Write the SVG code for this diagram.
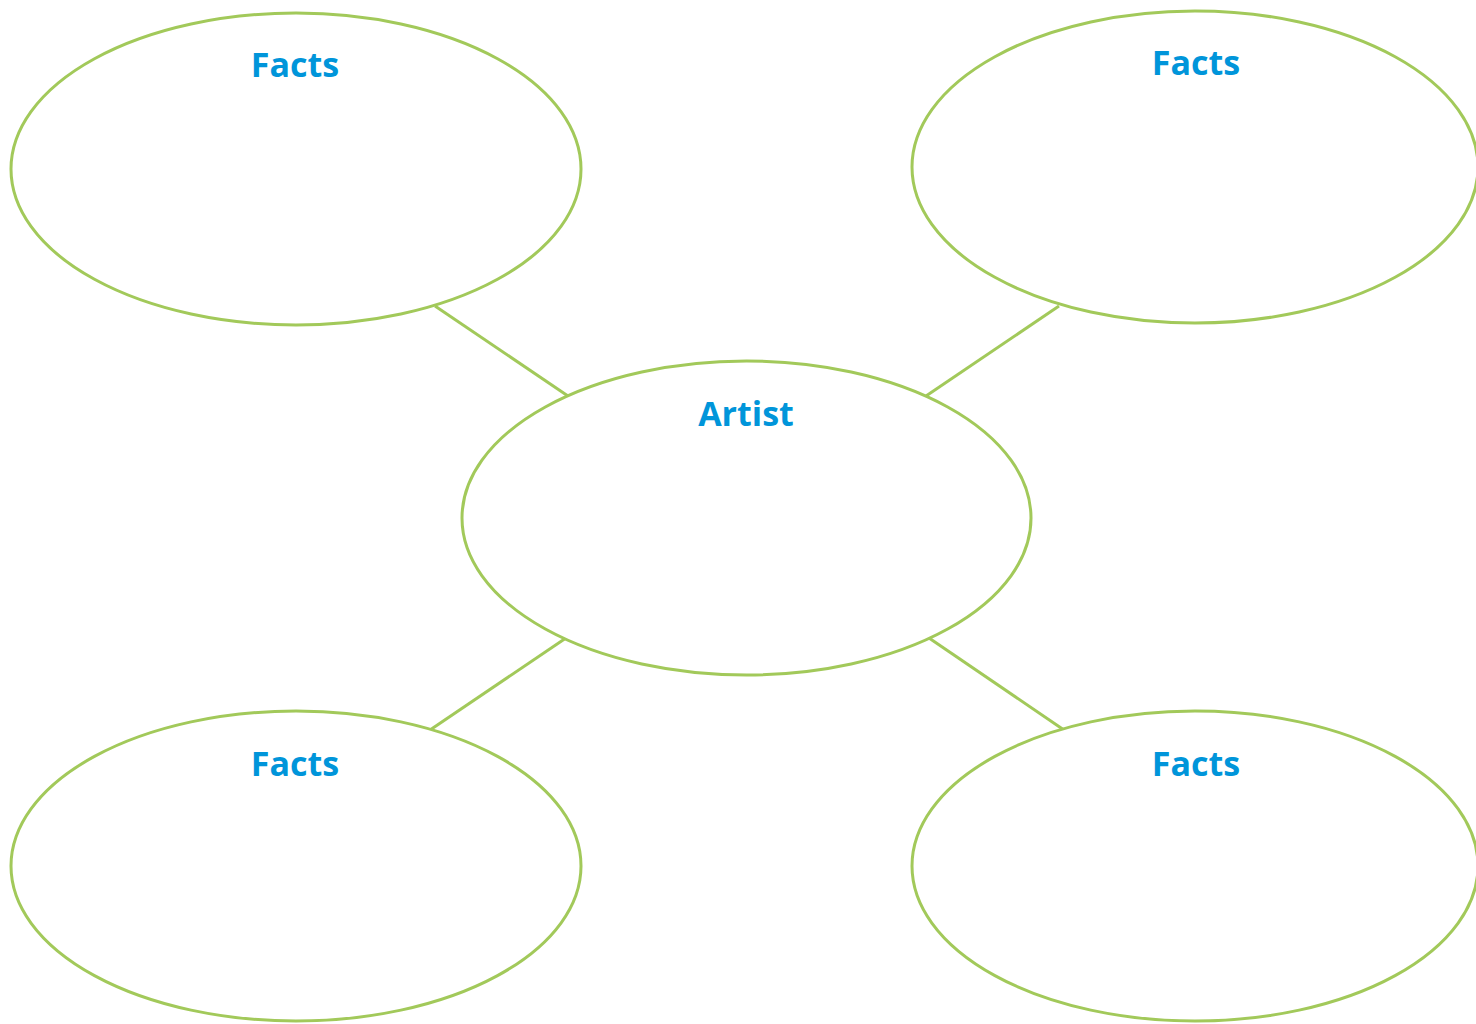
<svg xmlns="http://www.w3.org/2000/svg" width="1476" height="1024" viewBox="0 0 1476 1024">
<style>
.node{fill:#ffffff;stroke:#a2c95a;stroke-width:3}
.lbl{font-family:"Open Sans","Noto Sans","Liberation Sans",sans-serif;font-weight:bold;font-size:34px;fill:#0095da;text-anchor:middle}
.conn{stroke:#a2c95a;stroke-width:3;fill:none}
</style>
<rect width="1476" height="1024" fill="#ffffff"/>
<g id="connectors">
<line class="conn" x1="435" y1="306" x2="568" y2="396"/>
<line class="conn" x1="1059" y1="306" x2="926" y2="396"/>
<line class="conn" x1="566" y1="638" x2="430" y2="730"/>
<line class="conn" x1="929" y1="638" x2="1064" y2="730"/>
</g>
<g id="facts-tl">
<ellipse class="node" cx="296" cy="169" rx="285" ry="156"/>
<text class="lbl" x="295" y="77">Facts</text>
</g>
<g id="facts-tr">
<ellipse class="node" cx="1195" cy="167" rx="283" ry="156"/>
<text class="lbl" x="1196" y="75">Facts</text>
</g>
<g id="artist">
<ellipse class="node" cx="746.5" cy="518" rx="284.5" ry="157"/>
<text class="lbl" x="746" y="426">Artist</text>
</g>
<g id="facts-bl">
<ellipse class="node" cx="296" cy="866" rx="285" ry="155"/>
<text class="lbl" x="295" y="776">Facts</text>
</g>
<g id="facts-br">
<ellipse class="node" cx="1195" cy="866" rx="283" ry="155"/>
<text class="lbl" x="1196" y="776">Facts</text>
</g>
</svg>
